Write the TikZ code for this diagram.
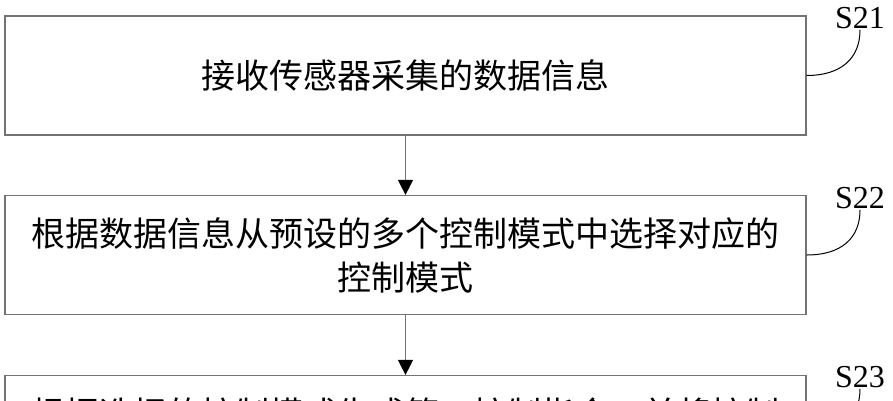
\documentclass[tikz,border=0pt]{standalone}
\usepackage{fontspec}
\setmainfont{Liberation Serif}
\newfontfamily\cjk{Noto Sans CJK SC}
\usetikzlibrary{arrows.meta}

\begin{document}
\begin{tikzpicture}[x=1pt,y=-1pt,
  box/.style={draw=black!55,line width=1.2pt,minimum width=801pt,minimum height=119pt,
    align=center,inner sep=0pt,font=\cjk\fontsize{34}{44}\selectfont},
  tag/.style={font=\fontsize{32}{32}\selectfont,inner sep=1pt},
  arr/.style={draw=black!55,line width=1.2pt,-{Triangle[width=15pt,length=15pt,color=black]}},
  hook/.style={line width=1pt}]
  \useasboundingbox (0,0) rectangle (893,400);
  \clip (0,0) rectangle (893,400);
  \node[box] (s21) at (405.5,75.5) {接收传感器采集的数据信息};
  \node[box] (s22) at (405.5,255) {根据数据信息从预设的多个控制模式中选择对应的\\控制模式};
  \node[box] (s23) at (405.5,435) {根据选择的控制模式生成第一控制指令，并将控制\\\phantom{控}};
  \foreach \a/\b in {s21/s22,s22/s23}
    \draw[arr] (\a.south) -- (\b.north);
  \foreach \n/\y in {21/18,22/198,23/377}
    \node[tag] (t\n) at (860,\y) {S\n};
  \foreach \n in {21,22,23}
    \draw[hook] (s\n.east) .. controls +(35,0) and +(0,28) .. (t\n.south);
\end{tikzpicture}
\end{document}
